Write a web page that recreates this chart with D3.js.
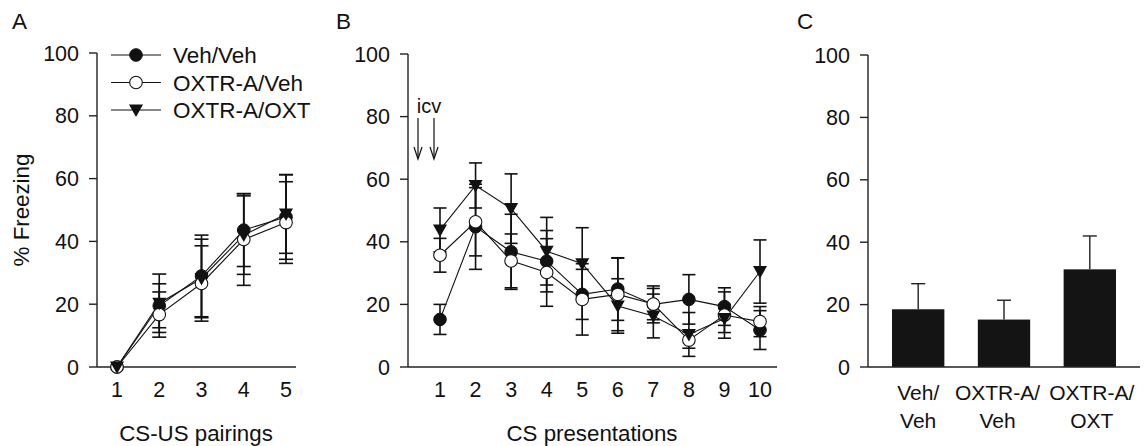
<!DOCTYPE html>
<html><head><meta charset="utf-8">
<script src="https://cdn.jsdelivr.net/npm/d3@7"></script>
<style>
html,body{margin:0;padding:0;background:#fff;}
svg{display:block;font-family:"Liberation Sans",Arial,Helvetica,sans-serif;}
</style></head>
<body>
<script>
// ---------- DATA ----------
const seriesNames = ["Veh/Veh", "OXTR-A/Veh", "OXTR-A/OXT"];
const pairings = [1, 2, 3, 4, 5];
const acqVeh      = [0, 19.5, 29, 43.6, 47.8];
const acqVehErr   = [0, 7, 13, 11.6, 13.5];
const acqOxtrVeh  = [0, 16.7, 26.6, 40.6, 46];
const acqOxtrVehErr=[0, 7.2, 12, 14.6, 13];
const acqOxt      = [0, 20.3, 28.2, 42, 48.7];
const acqOxtErr   = [0, 9.3, 12.5, 12.5, 12.5];

const presentations = [1,2,3,4,5,6,7,8,9,10];
const cueVeh      = [15.2, 44.8, 36.8, 33.8, 23.2, 24.9, 20.0, 21.6, 19.3, 11.8];
const cueVehErr   = [4.8, 13.6, 12.0, 9.8, 8.0, 10.0, 5.9, 7.9, 6.0, 6.2];
const cueOxtrVeh  = [35.7, 46.4, 33.9, 30.2, 21.6, 23.2, 20.1, 8.6, 16.6, 14.5];
const cueOxtrVehErr=[5.4, 10.9, 8.6, 10.8, 11.4, 11.6, 5.0, 2.6, 7.4, 4.8];
const cueOxt      = [43.8, 58.0, 50.6, 37.0, 33.0, 19.5, 16.3, 10.4, 15.5, 30.5];
const cueOxtErr   = [7.0, 7.2, 11.1, 10.8, 11.5, 8.7, 7.0, 7.0, 4.5, 10.1];

const barLabels = [["Veh/","Veh"],["OXTR-A/","Veh"],["OXTR-A/","OXT"]];
const barMeans  = [18.5, 15.2, 31.3];
const barErr    = [8.2, 6.2, 10.7];

const yTicks = [0, 20, 40, 60, 80, 100];
const panelLetters = ["A","B","C"];

// ---------- DRAW ----------
const W = 1146, H = 446;
const svg = d3.select("body").append("svg").attr("width", W).attr("height", H);
const ink = "#111";
const axisCol = "#222";
const tickFont = 21.5, titleFont = 22.3, legendFont = 22.5;

function yAxis(g, y, x0) {
  g.append("line").attr("x1", x0).attr("x2", x0).attr("y1", y(100)).attr("y2", y(0))
    .attr("stroke", axisCol).attr("stroke-width", 1.4);
  yTicks.forEach(t => {
    g.append("line").attr("x1", x0 - 8).attr("x2", x0).attr("y1", y(t)).attr("y2", y(t))
      .attr("stroke", axisCol).attr("stroke-width", 1.4);
    g.append("text").attr("x", x0 - 18).attr("y", y(t)).attr("dy", "0.35em")
      .attr("text-anchor", "end").attr("font-size", tickFont).attr("fill", ink).text(t);
  });
}
function xAxisLine(g, y, x0, x1) {
  g.append("line").attr("x1", x0).attr("x2", x1).attr("y1", y(0)).attr("y2", y(0))
    .attr("stroke", axisCol).attr("stroke-width", 1.4);
}

const sym = {
  circleFill: (g, cx, cy) => g.append("circle").attr("cx", cx).attr("cy", cy).attr("r", 6.3).attr("fill", ink).attr("stroke", ink).attr("stroke-width", 1),
  circleOpen: (g, cx, cy) => g.append("circle").attr("cx", cx).attr("cy", cy).attr("r", 6.3).attr("fill", "#fff").attr("stroke", ink).attr("stroke-width", 1.1),
  triangle: (g, cx, cy) => g.append("path")
      .attr("d", `M${cx-7},${cy-5.5} L${cx+7},${cy-5.5} L${cx},${cy+7} Z`).attr("fill", ink)
};
const symbols = [sym.circleFill, sym.circleOpen, sym.triangle];

function drawSeries(g, x, y, xs, vals, errs, capW) {
  vals.forEach((v, k) => {
    errs[k].forEach((e, i) => {
      if (!e) return;
      const cx = x(xs[i]);
      g.append("line").attr("x1", cx).attr("x2", cx).attr("y1", y(v[i] + e)).attr("y2", y(v[i] - e))
        .attr("stroke", ink).attr("stroke-width", 1.6);
      [v[i] + e, v[i] - e].forEach(yy => g.append("line")
        .attr("x1", cx - capW / 2).attr("x2", cx + capW / 2).attr("y1", y(yy)).attr("y2", y(yy))
        .attr("stroke", ink).attr("stroke-width", 1.6));
    });
  });
  const line = d3.line().x((d, i) => x(xs[i])).y(d => y(d));
  vals.forEach((v, k) => {
    g.append("path").attr("d", line(v)).attr("fill", "none").attr("stroke", ink).attr("stroke-width", 1.1);
  });
  vals.forEach((v, k) => v.forEach((d, i) => symbols[k](g, x(xs[i]), y(d))));
}

// Panel A
{
  const g = svg.append("g");
  const y = d3.scaleLinear().domain([0, 100]).range([367, 53]);
  const x = d3.scaleLinear().domain([1, 5]).range([117, 286]);
  yAxis(g, y, 97);
  xAxisLine(g, y, 97, 296);
  pairings.forEach(p => g.append("text").attr("x", x(p)).attr("y", 397).attr("text-anchor", "middle")
    .attr("font-size", tickFont).attr("fill", ink).text(p));
  drawSeries(g, x, y, pairings, [acqVeh, acqOxtrVeh, acqOxt], [acqVehErr, acqOxtrVehErr, acqOxtErr], 14);
  g.append("text").attr("x", 196).attr("y", 441).attr("text-anchor", "middle").attr("font-size", titleFont).attr("fill", ink).text("CS-US pairings");
  g.append("text").attr("transform", "translate(29,210) rotate(-90)").attr("text-anchor", "middle").attr("font-size", titleFont).attr("fill", ink).text("% Freezing");
  g.append("text").attr("x", 12).attr("y", 29).attr("font-size", 22.5).attr("fill", ink).text(panelLetters[0]);
  seriesNames.forEach((n, k) => {
    const ly = 55 + k * 27.5;
    g.append("line").attr("x1", 111).attr("x2", 161).attr("y1", ly).attr("y2", ly).attr("stroke", ink).attr("stroke-width", 1.1);
    symbols[k](g, 136, ly);
    g.append("text").attr("x", 173).attr("y", ly).attr("dy", "0.36em").attr("font-size", legendFont).attr("fill", ink).text(n);
  });
}

// Panel B
{
  const g = svg.append("g");
  const y = d3.scaleLinear().domain([0, 100]).range([367, 54]);
  const x = d3.scaleLinear().domain([1, 10]).range([440, 760]);
  yAxis(g, y, 408);
  xAxisLine(g, y, 408, 777);
  presentations.forEach(p => g.append("text").attr("x", x(p)).attr("y", 397).attr("text-anchor", "middle")
    .attr("font-size", tickFont).attr("fill", ink).text(p));
  drawSeries(g, x, y, presentations, [cueVeh, cueOxtrVeh, cueOxt], [cueVehErr, cueOxtrVehErr, cueOxtErr], 13);
  g.append("text").attr("x", 592).attr("y", 441).attr("text-anchor", "middle").attr("font-size", titleFont).attr("fill", ink).text("CS presentations");
  g.append("text").attr("x", 336).attr("y", 29).attr("font-size", 22.5).attr("fill", ink).text(panelLetters[1]);
  g.append("text").attr("x", 429).attr("y", 113).attr("text-anchor", "middle").attr("font-size", 20).attr("fill", ink).text("icv");
  [418, 434].forEach(ax => {
    g.append("line").attr("x1", ax).attr("x2", ax).attr("y1", 118).attr("y2", 158).attr("stroke", ink).attr("stroke-width", 1.2);
    g.append("path").attr("d", `M${ax-4},${147} L${ax},${159} L${ax+4},${147}`).attr("fill", "none").attr("stroke", ink).attr("stroke-width", 1.2);
  });
}

// Panel C
{
  const g = svg.append("g");
  const y = d3.scaleLinear().domain([0, 100]).range([367, 55]);
  const x = d3.scaleBand().domain(d3.range(barMeans.length)).range([868, 1140]).paddingInner(0.39).paddingOuter(0.28);
  yAxis(g, y, 868);
  barMeans.forEach((m, i) => {
    const cx = x(i) + x.bandwidth() / 2;
    g.append("line").attr("x1", cx).attr("x2", cx).attr("y1", y(m + barErr[i])).attr("y2", y(m)).attr("stroke", axisCol).attr("stroke-width", 1.4);
    g.append("line").attr("x1", cx - 7).attr("x2", cx + 7).attr("y1", y(m + barErr[i])).attr("y2", y(m + barErr[i])).attr("stroke", axisCol).attr("stroke-width", 1.4);
  });
  g.selectAll("rect.bar").data(barMeans).join("rect").attr("class", "bar")
    .attr("x", (d, i) => x(i)).attr("width", x.bandwidth())
    .attr("y", d => y(d)).attr("height", d => y(0) - y(d)).attr("fill", "#141414");
  xAxisLine(g, y, 868, 1140);
  const labelNudge = [0, -6.5, 2];
  barLabels.forEach((lab, i) => {
    const cx = x(i) + x.bandwidth() / 2 + labelNudge[i];
    lab.forEach((s, j) => g.append("text").attr("x", cx).attr("y", 400 + j * 28).attr("text-anchor", "middle")
      .attr("font-size", 21).attr("fill", ink).text(s));
  });
  g.append("text").attr("x", 797).attr("y", 29).attr("font-size", 22.5).attr("fill", ink).text(panelLetters[2]);
}
</script>
</body></html>
